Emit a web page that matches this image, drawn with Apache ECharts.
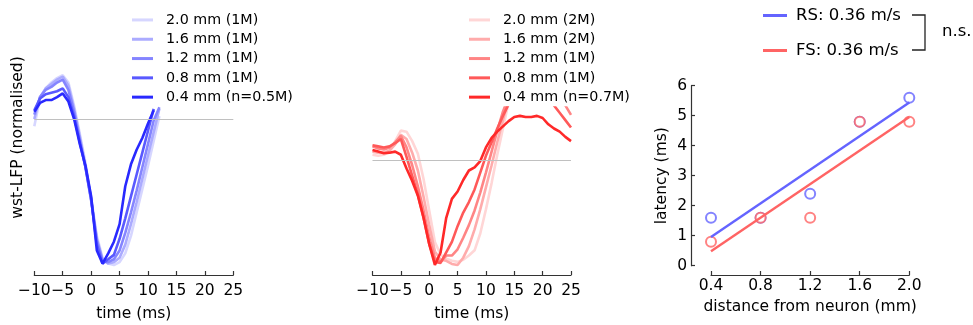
<!DOCTYPE html>
<html>
<head>
<meta charset="utf-8">
<script src="https://cdn.jsdelivr.net/npm/echarts@6/dist/echarts.min.js"></script>
<style>
  html, body { margin: 0; padding: 0; background: #fff; }
  #chart { width: 973px; height: 325px; }
</style>
</head>
<body>
<div id="chart"></div>
<script>
// time axis (ms)
var times = [-10,-9,-8,-7,-6,-5,-4,-3,-2,-1,0,1,2,3,4,5,6,7,8,9,10,11,12,13,14,15,16,17,18,19,20,21,22,23,24,25];

// RS (blue) waveforms, normalised
var rsNames = ['2.0 mm (1M)', '1.6 mm (1M)', '1.2 mm (1M)', '0.8 mm (1M)', '0.4 mm (n=0.5M)'];
var rs20 = [-0.05,0.14,0.21,0.25,0.28,0.30,0.25,0.09,-0.10,-0.30,-0.54,-0.80,-0.95,-0.99,-1.0,-0.98,-0.92,-0.80,-0.64,-0.48,-0.32,-0.15,0.02,null,null,null,null,null,null,null,null,null,null,null,null,null];
var rs16 = [0.0,0.15,0.21,0.24,0.27,0.29,0.23,0.07,-0.12,-0.32,-0.55,-0.82,-0.96,-0.99,-0.98,-0.95,-0.86,-0.72,-0.57,-0.41,-0.25,-0.09,0.07,null,null,null,null,null,null,null,null,null,null,null,null,null];
var rs12 = [0.03,0.15,0.20,0.22,0.25,0.27,0.20,0.05,-0.14,-0.33,-0.56,-0.83,-0.97,-0.98,-0.96,-0.90,-0.78,-0.64,-0.49,-0.33,-0.17,-0.01,0.08,null,null,null,null,null,null,null,null,null,null,null,null,null];
var rs08 = [0.06,0.14,0.17,0.18,0.19,0.21,0.15,0.02,-0.16,-0.33,-0.55,-0.86,-0.99,-0.96,-0.93,-0.82,-0.68,-0.53,-0.38,-0.23,-0.08,0.07,null,null,null,null,null,null,null,null,null,null,null,null,null,null];
var rs04 = [0.05,0.11,0.13,0.13,0.15,0.175,0.12,0.0,-0.17,-0.32,-0.53,-0.90,-0.99,-0.92,-0.84,-0.72,-0.46,-0.31,-0.21,-0.13,-0.03,0.06,null,null,null,null,null,null,null,null,null,null,null,null,null,null];

// FS (red) waveforms, normalised
var fsNames = ['2.0 mm (2M)', '1.6 mm (2M)', '1.2 mm (1M)', '0.8 mm (1M)', '0.4 mm (n=0.7M)'];
var fs20 = [0.05,0.04,0.05,0.08,0.18,0.28,0.27,0.18,0.06,-0.18,-0.48,-0.78,-0.90,-0.94,-0.96,-0.97,-0.95,-0.91,-0.86,-0.70,-0.47,-0.22,0.05,0.30,0.55,0.70,0.78,0.82,0.84,0.84,0.83,0.80,0.77,0.73,0.69,0.64];
var fs16 = [0.08,0.07,0.07,0.09,0.15,0.24,0.20,0.07,-0.10,-0.35,-0.62,-0.87,-0.95,-0.96,-0.99,-1.0,-0.93,-0.82,-0.66,-0.47,-0.26,-0.05,0.17,0.38,0.58,0.72,0.78,0.80,0.81,0.80,0.78,0.75,0.72,0.68,0.64,0.58];
var fs12 = [0.13,0.11,0.10,0.12,0.17,0.23,0.12,-0.05,-0.25,-0.48,-0.74,-0.93,-0.97,-0.91,-0.91,-0.85,-0.74,-0.62,-0.48,-0.31,-0.12,0.08,0.28,0.46,0.60,0.68,0.72,0.74,0.75,0.74,0.72,0.68,0.64,0.59,0.52,0.43];
var fs08 = [0.14,0.13,0.12,0.13,0.16,0.20,0.03,-0.15,-0.33,-0.55,-0.80,-0.97,-0.98,-0.88,-0.78,-0.63,-0.50,-0.40,-0.28,-0.12,0.04,0.17,0.30,0.42,0.53,0.60,0.63,0.65,0.66,0.65,0.63,0.58,0.52,0.45,0.38,0.31];
var fs04 = [0.095,0.08,0.065,0.07,0.08,0.05,-0.08,-0.20,-0.34,-0.55,-0.80,-1.0,-0.88,-0.55,-0.37,-0.30,-0.19,-0.10,-0.07,-0.01,0.12,0.21,0.27,0.32,0.37,0.41,0.42,0.41,0.41,0.42,0.40,0.34,0.30,0.27,0.22,0.18];

// latency vs distance
var distances = [0.4, 0.8, 1.2, 1.6, 2.0];
var rsLatency = [1.6, 1.6, 2.4, 4.8, 5.6];
var fsLatency = [0.8, 1.6, 1.6, 4.8, 4.8];
var fitNames = ['RS: 0.36 m/s', 'FS: 0.36 m/s'];

var blues = ['#d6d6ff', '#ababff', '#8585ff', '#5959ff', '#2929ff'];
var reds = ['#ffd6d6', '#ffabab', '#ff8585', '#ff5959', '#ff2929'];

var FONT = 'DejaVu Sans';

function pairs(vals) {
  return times.map(function (t, i) { return [t, vals[i] == null ? '-' : vals[i]]; });
}

// least squares line through the points, end to end
function fit(xs, ys) {
  var n = xs.length, mx = 0, my = 0, sxy = 0, sxx = 0;
  for (var i = 0; i < n; i++) { mx += xs[i] / n; my += ys[i] / n; }
  for (var j = 0; j < n; j++) { sxy += (xs[j] - mx) * (ys[j] - my); sxx += (xs[j] - mx) * (xs[j] - mx); }
  var b = sxy / sxx, a = my - b * mx;
  var x0 = xs[0], x1 = xs[n - 1];
  return [[x0, a + b * x0], [x1, a + b * x1]];
}

function minus(v) { return v < 0 ? '\u2212' + Math.abs(v) : String(v); }

var timeAxis = function (idx) {
  return {
    type: 'value', gridIndex: idx, min: -10, max: 25, interval: 5,
    name: 'time (ms)', nameLocation: 'middle', nameGap: 31,
    nameTextStyle: { fontFamily: FONT, fontSize: 15.5, color: '#000' },
    axisLine: { show: true, onZero: false, lineStyle: { color: '#333', width: 1.2 } },
    axisTick: { show: true, inside: true, length: 4, lineStyle: { color: '#333', width: 1.2 } },
    axisLabel: { margin: 8, fontFamily: FONT, fontSize: 15.5, color: '#000', formatter: minus },
    splitLine: { show: false }
  };
};

var series = [];
var rsData = [rs20, rs16, rs12, rs08, rs04];
var fsData = [fs20, fs16, fs12, fs08, fs04];
var zeroLine = { silent: true, symbol: 'none', label: { show: false },
  lineStyle: { color: '#c0c0c0', width: 1.1, type: 'solid' }, data: [{ yAxis: 0 }] };

rsData.forEach(function (d, i) {
  var s = {
    name: 'L|' + rsNames[i], type: 'line', xAxisIndex: 0, yAxisIndex: 0,
    data: pairs(d), symbol: 'none', color: blues[i],
    lineStyle: { color: blues[i], width: 2.6 }, silent: true
  };
  if (i === 0) s.markLine = zeroLine;
  series.push(s);
});
fsData.forEach(function (d, i) {
  var s = {
    name: 'M|' + fsNames[i], type: 'line', xAxisIndex: 1, yAxisIndex: 1,
    data: pairs(d), symbol: 'none', color: reds[i],
    lineStyle: { color: reds[i], width: 2.6 }, silent: true
  };
  if (i === 0) s.markLine = zeroLine;
  series.push(s);
});

series.push({
  name: fitNames[0], type: 'line', xAxisIndex: 2, yAxisIndex: 2, symbol: 'none',
  data: fit(distances, rsLatency), color: '#6464ff', lineStyle: { color: '#6464ff', width: 2.4 }
});
series.push({
  name: fitNames[1], type: 'line', xAxisIndex: 2, yAxisIndex: 2, symbol: 'none',
  data: fit(distances, fsLatency), color: '#ff6464', lineStyle: { color: '#ff6464', width: 2.4 }
});
series.push({
  name: 'RS points', type: 'scatter', xAxisIndex: 2, yAxisIndex: 2,
  data: distances.map(function (x, i) { return [x, rsLatency[i]]; }),
  symbol: 'emptyCircle', symbolSize: 10,
  itemStyle: { color: '#6464ff', borderColor: '#6464ff', borderWidth: 2.6 }
});
series.push({
  name: 'FS points', type: 'scatter', xAxisIndex: 2, yAxisIndex: 2,
  data: distances.map(function (x, i) { return [x, fsLatency[i]]; }),
  symbol: 'emptyCircle', symbolSize: 10,
  itemStyle: { color: '#ff6464', borderColor: '#ff6464', borderWidth: 2.6 }
});

function waveLegend(left, names, colors) {
  return {
    orient: 'vertical', left: left, top: 12.6, padding: 0,
    itemWidth: 21, itemHeight: 3, itemGap: 4.6,
    selectedMode: false, icon: 'rect',
    data: names.map(function (n, i) { return { name: n, itemStyle: { color: colors[i] } }; }),
    formatter: function (n) { return n.split('|')[1]; },
    textStyle: { fontFamily: FONT, fontSize: 14.3, lineHeight: 14.7, color: '#000', padding: [0, 0, 0, 8] }
  };
}

var option = {
  animation: false,
  backgroundColor: '#fff',
  textStyle: { fontFamily: FONT },
  grid: [
    { left: 34.3, right: 973 - 233.3, top: 0, bottom: 50, outerBoundsMode: 'none', containLabel: false },
    { left: 372.5, right: 973 - 571, top: 107.5, bottom: 50, outerBoundsMode: 'none', containLabel: false },
    { left: 711, right: 973 - 909.3, top: 85.7, bottom: 59.3, outerBoundsMode: 'none', containLabel: false }
  ],
  legend: [
    waveLegend(132, rsNames.map(function (n) { return 'L|' + n; }), blues),
    waveLegend(469, fsNames.map(function (n) { return 'M|' + n; }), reds),
    {
      orient: 'vertical', left: 763, top: 7, padding: 0,
      itemWidth: 24, itemHeight: 3, itemGap: 18,
      selectedMode: false, icon: 'rect',
      data: [
        { name: fitNames[0], itemStyle: { color: '#6464ff' } },
        { name: fitNames[1], itemStyle: { color: '#ff6464' } }
      ],
      textStyle: { fontFamily: FONT, fontSize: 16.5, lineHeight: 16, color: '#000', padding: [0, 0, 0, 4] }
    }
  ],
  xAxis: [
    timeAxis(0),
    timeAxis(1),
    {
      type: 'value', gridIndex: 2, min: 0.4, max: 2.0, interval: 0.4, offset: 9.3,
      name: 'distance from neuron (mm)', nameLocation: 'middle', nameGap: 22,
      nameTextStyle: { fontFamily: FONT, fontSize: 15.5, color: '#000' },
      axisLine: { show: true, onZero: false, lineStyle: { color: '#333', width: 1.2 } },
      axisTick: { show: true, inside: true, length: 4, lineStyle: { color: '#333', width: 1.2 } },
      axisLabel: { margin: 3, fontFamily: FONT, fontSize: 15.5, color: '#000',
        formatter: function (v) { return v.toFixed(1); } },
      splitLine: { show: false }
    }
  ],
  yAxis: [
    {
      type: 'value', gridIndex: 0, min: -1.068, max: 0.815,
      name: 'wst-LFP (normalised)', nameLocation: 'middle', nameGap: 8,
      nameTextStyle: { fontFamily: FONT, fontSize: 15.5, color: '#000' },
      axisLine: { show: false }, axisTick: { show: false }, axisLabel: { show: false },
      splitLine: { show: false }
    },
    {
      type: 'value', gridIndex: 1, min: -1.095, max: 0.5,
      axisLine: { show: false }, axisTick: { show: false }, axisLabel: { show: false },
      splitLine: { show: false }
    },
    {
      type: 'value', gridIndex: 2, min: 0, max: 6, interval: 1, offset: 20,
      name: 'latency (ms)', nameLocation: 'middle', nameGap: 21,
      nameTextStyle: { fontFamily: FONT, fontSize: 15.5, color: '#000' },
      axisLine: { show: true, onZero: false, lineStyle: { color: '#333', width: 1.2 } },
      axisTick: { show: true, inside: true, length: 4, lineStyle: { color: '#333', width: 1.2 } },
      axisLabel: { margin: 4, fontFamily: FONT, fontSize: 15.5, color: '#000' },
      splitLine: { show: false }
    }
  ],
  graphic: [
    {
      type: 'polyline', silent: true,
      shape: { points: [[912, 15], [925, 15], [925, 50], [912, 50]] },
      style: { stroke: '#222', lineWidth: 1.3, fill: null }
    },
    {
      type: 'text', left: 942, top: 23, silent: true,
      style: { text: 'n.s.', fontFamily: FONT, fontSize: 16.5, fill: '#000' }
    }
  ],
  series: series
};

var chart = echarts.init(document.getElementById('chart'), null, { renderer: 'canvas' });
chart.setOption(option);
</script>
</body>
</html>
